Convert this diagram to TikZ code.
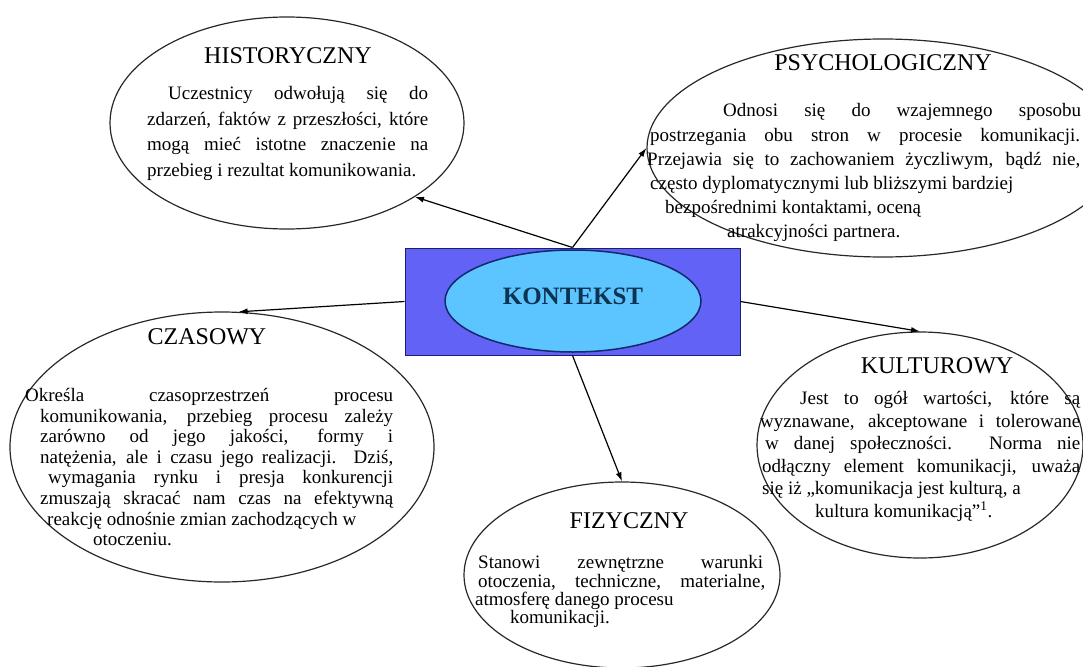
\documentclass[tikz,border=0pt]{standalone}
\usepackage{fontspec}
\setmainfont{Liberation Serif}
\usetikzlibrary{shapes.geometric,arrows.meta}
\definecolor{boxfill}{RGB}{98,98,246}
\definecolor{boxedge}{RGB}{30,30,110}
\definecolor{corefill}{RGB}{92,196,255}
\definecolor{coreedge}{RGB}{20,40,110}
\definecolor{coretext}{RGB}{12,52,82}
\definecolor{outline}{RGB}{40,40,40}
% a line of text spread to a given width
\newcommand{\spreadline}[2]{\makebox[#1][s]{#2}}
\begin{document}
\begin{tikzpicture}[x=1pt,y=-1pt,
  bubble/.style={ellipse, draw=outline, line width=1.2pt, inner sep=0pt},
  heading/.style={font=\fontsize{24}{28}\selectfont, inner sep=0pt},
  body/.style={font=\fontsize{19}{22}\selectfont, inner sep=0pt, anchor=base west},
  link/.style={draw=black, line width=1.2pt, -{Latex[length=9pt,width=6pt]}}
]
\useasboundingbox (0,0) rectangle (1083,666);

% the five contexts
\node[bubble, minimum width=354pt, minimum height=212pt] (hist) at (287,123) {};
\node[bubble, minimum width=472pt, minimum height=218pt] (psych) at (883,148) {};
\node[bubble, minimum width=424pt, minimum height=270pt] (czas) at (222,447) {};
\node[bubble, minimum width=326pt, minimum height=226pt] (kult) at (920,445) {};
\node[bubble, minimum width=316pt, minimum height=186pt] (fiz) at (622,575) {};

% centre
\node[draw=boxedge, fill=boxfill, line width=1pt, minimum width=335pt, minimum height=107pt, inner sep=0pt] (frame) at (572.5,301.5) {};
\node[ellipse, draw=coreedge, fill=corefill, line width=1.5pt, minimum width=256pt, minimum height=102pt, inner sep=0pt] (core) at (573,301) {};
\node[font=\fontsize{25}{30}\selectfont\bfseries, text=coretext, inner sep=0pt] (kontekst) at (573,296) {KONTEKST};

% historyczny
\node[heading] (histtitle) at (288,56) {HISTORYCZNY};
\node[body] (h1) at (168,100) {\spreadline{260pt}{Uczestnicy odwołują się do}};
\node[body] (h2) at (147,125) {\spreadline{281pt}{zdarzeń, faktów z przeszłości, które}};
\node[body] (h3) at (147,150) {\spreadline{281pt}{mogą mieć istotne znaczenie na}};
\node[body] (h4) at (147,176) {przebieg i rezultat komunikowania.};

% psychologiczny
\node[heading] (psychtitle) at (883,63) {PSYCHOLOGICZNY};
\node[body] (p1) at (723,117) {\spreadline{358pt}{Odnosi się do wzajemnego sposobu}};
\node[body] (p2) at (650,141) {\spreadline{430pt}{postrzegania obu stron w procesie komunikacji.}};
\node[body] (p3) at (647,165) {\spreadline{433pt}{Przejawia się to zachowaniem życzliwym, bądź nie,}};
\node[body] (p4) at (650,189) {często dyplomatycznymi lub bliższymi bardziej};
\node[body] (p5) at (665,213) {bezpośrednimi kontaktami, oceną};
\node[body] (p6) at (727,237) {atrakcyjności partnera.};

% czasowy
\node[heading] (czastitle) at (207,337) {CZASOWY};
\node[body] (c1) at (25,401) {\spreadline{368pt}{Określa czasoprzestrzeń procesu}};
\node[body] (c2) at (40,422) {\spreadline{353pt}{komunikowania, przebieg procesu zależy}};
\node[body] (c3) at (40,442) {\spreadline{353pt}{zarówno od jego jakości, formy i}};
\node[body] (c4) at (40,463) {\spreadline{353pt}{natężenia, ale i czasu jego realizacji. Dziś,}};
\node[body] (c5) at (48,483) {\spreadline{345pt}{wymagania rynku i presja konkurencji}};
\node[body] (c6) at (40,504) {\spreadline{353pt}{zmuszają skracać nam czas na efektywną}};
\node[body] (c7) at (47,525) {reakcję odnośnie zmian zachodzących w};
\node[body] (c8) at (93,545) {otoczeniu.};

% kulturowy
\node[heading] (kulttitle) at (937,366) {KULTUROWY};
\node[body] (k1) at (800,404) {\spreadline{280pt}{Jest to ogół wartości, które są}};
\node[body] (k2) at (760,427) {\spreadline{320pt}{wyznawane, akceptowane i tolerowane}};
\node[body] (k3) at (765,449) {\spreadline{315pt}{w danej społeczności. Norma nie}};
\node[body] (k4) at (762,472) {\spreadline{318pt}{odłączny element komunikacji, uważa}};
\node[body] (k5) at (762,494) {się iż „komunikacja jest kulturą, a};
\node[body] (k6) at (815,517) {kultura komunikacją”\textsuperscript{1}.};

% fizyczny
\node[heading] (fiztitle) at (629,521) {FIZYCZNY};
\node[body] (f1) at (478,568) {\spreadline{285pt}{Stanowi zewnętrzne warunki}};
\node[body] (f2) at (478,587) {\spreadline{287pt}{otoczenia, techniczne, materialne,}};
\node[body] (f3) at (475,605) {atmosferę danego procesu};
\node[body] (f4) at (510,623) {komunikacji.};

% connectors
\draw[link] (frame.north) -- (hist.-30);
\draw[link] (frame.north) -- (psych.west);
\draw[link] (frame.west) -- (czas.83);
\draw[link] (frame.east) -- (kult.north);
\draw[link] (frame.south) -- (fiz.north);
\end{tikzpicture}
\end{document}
